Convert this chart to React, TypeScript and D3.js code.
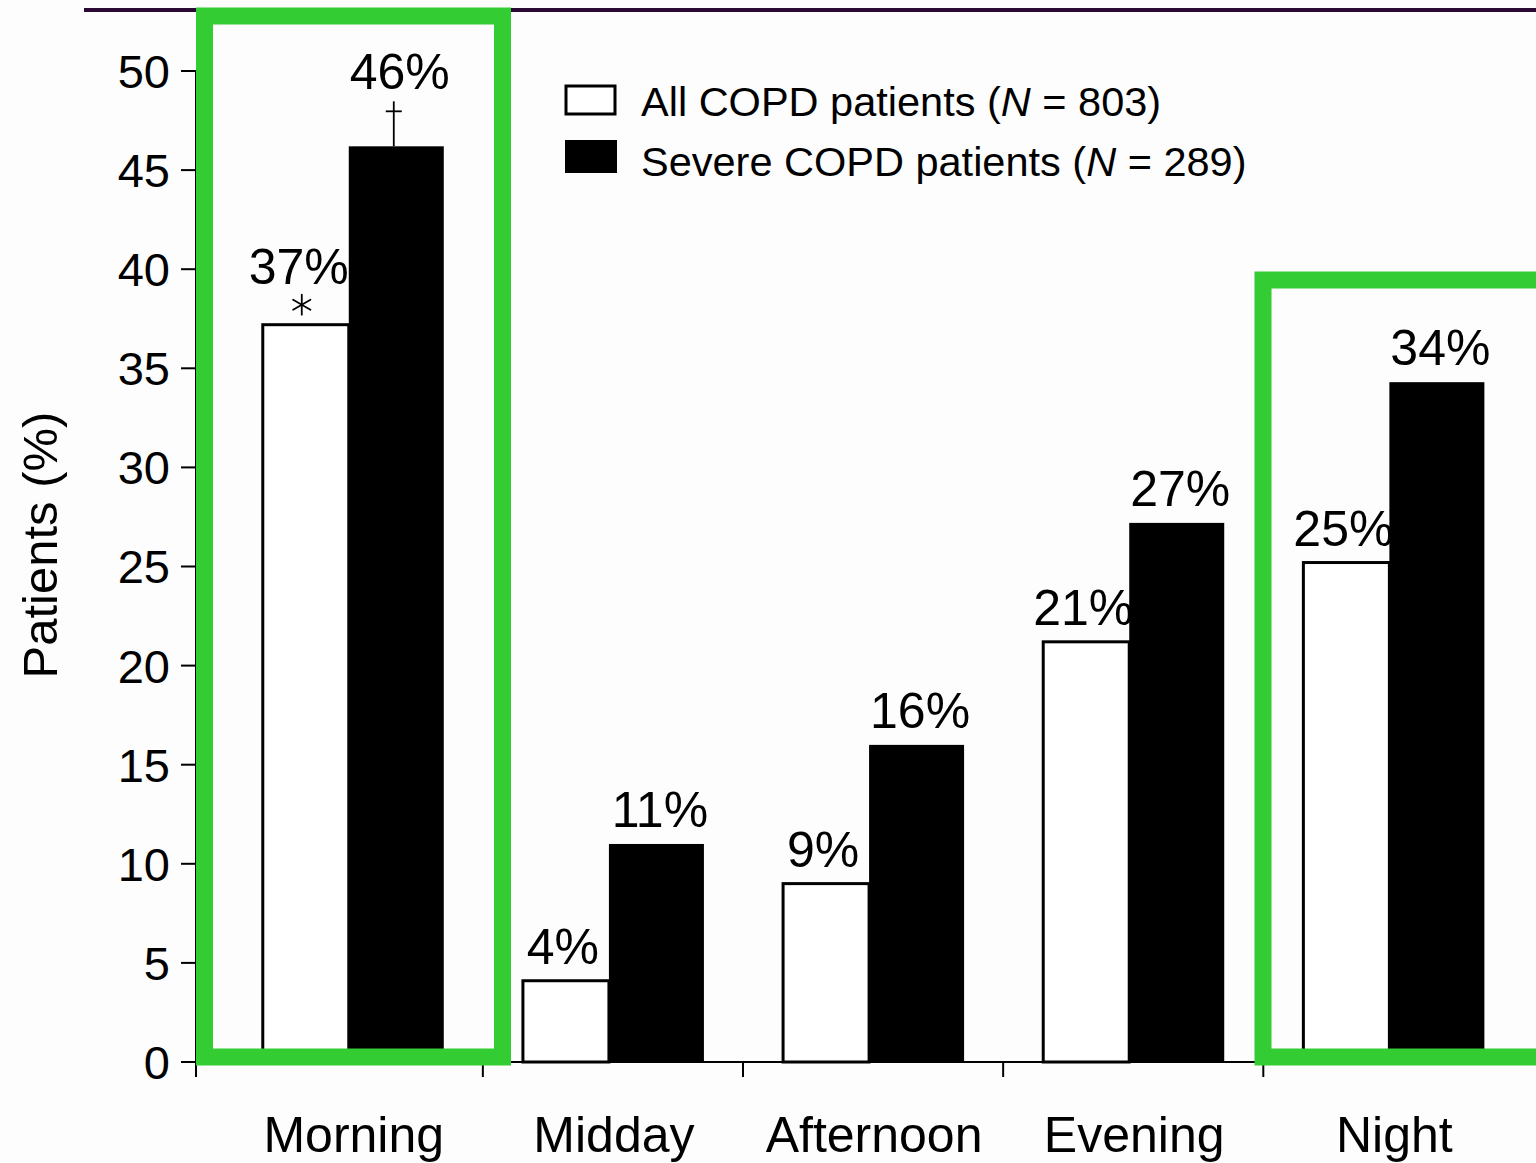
import React from "react";
import * as d3 from "d3";

const categories = ["Morning", "Midday", "Afternoon", "Evening", "Night"];
const allPatients = [37.2, 4.1, 9.0, 21.2, 25.2];
const severePatients = [46.2, 11.0, 16.0, 27.2, 34.3];
const yTicks = [0, 5, 10, 15, 20, 25, 30, 35, 40, 45, 50];
const seriesNames = ["All COPD patients", "Severe COPD patients"];
const seriesN = [803, 289];
const highlighted = ["Morning", "Night"];

const W = 1536;
const H = 1163;
const FONT = "'Liberation Sans', Arial, Helvetica, sans-serif";
const GREEN = "#33cc33";

export default function App() {
  const axisX = 196;
  const y = d3.scaleLinear().domain([0, 50]).range([1062, 71]);
  const step = 260.15;
  const x = d3.scaleBand<string>().domain(categories).range([222.7, 222.7 + 5 * step]).padding(0);
  const center = (c: string) => (x(c) as number) + x.bandwidth() / 2;
  const y0 = y(0);

  const boundaries = categories.slice(1).map((c) => x(c) as number);
  const m = center("Morning");
  const daggerTop = y(severePatients[0]);
  const astX = m - 51;
  const astY = y(allPatients[0]) - 20;
  const astR = 10;

  return (
    <svg
      width={W}
      height={H}
      style={{ position: "absolute", left: 0, top: 0, background: "#fdfdfd" }}
      fontFamily={FONT}
    >
      <rect x={0} y={0} width={W} height={H} fill="#fdfdfd" />
      {/* top rule */}
      <line x1={84} x2={W} y1={10} y2={10} stroke="#2a0a33" strokeWidth={4} />

      {/* y axis */}
      <line x1={axisX} x2={axisX} y1={y(50)} y2={1077} stroke="#000" strokeWidth={2} />
      {yTicks.map((t) => (
        <g key={t}>
          <line x1={181} x2={axisX} y1={y(t)} y2={y(t)} stroke="#000" strokeWidth={2} />
          <text x={170} y={y(t)} dy="0.36em" textAnchor="end" fontSize={47} fill="#000">
            {t}
          </text>
        </g>
      ))}
      <text
        transform={`translate(57, 545) rotate(-90)`}
        textAnchor="middle"
        fontSize={49}
        fill="#000"
      >
        Patients (%)
      </text>

      {/* x axis */}
      <line x1={axisX} x2={W} y1={y0} y2={y0} stroke="#000" strokeWidth={2} />
      {boundaries.map((b, i) => (
        <line key={i} x1={b} x2={b} y1={y0} y2={1077} stroke="#000" strokeWidth={2} />
      ))}
      {categories.map((c) => (
        <text key={c} x={center(c) + 1} y={1152} textAnchor="middle" fontSize={50} fill="#000">
          {c}
        </text>
      ))}

      {/* bars */}
      {categories.map((c, i) => {
        const cx = center(c);
        const a = allPatients[i];
        const s = severePatients[i];
        return (
          <g key={c}>
            <rect
              x={cx - 90}
              y={y(a)}
              width={86}
              height={y0 - y(a)}
              fill="#fff"
              stroke="#000"
              strokeWidth={3}
            />
            <rect x={cx - 4} y={y(s)} width={95} height={y0 - y(s)} fill="#000" />
            <text x={cx - (i === 0 ? 54 : 50)} y={y(a) - (i === 0 ? 41 : 17)} textAnchor="middle" fontSize={50} fill="#000">
              {Math.round(a)}%
            </text>
            <text x={cx + 47} y={y(s) - (i === 0 ? 57 : 17)} textAnchor="middle" fontSize={50} fill="#000">
              {Math.round(s)}%
            </text>
          </g>
        );
      })}

      {/* significance markers: asterisk and dagger */}
      <g stroke="#000" strokeWidth={1.8} strokeLinecap="round">
        {[90, 30, 150].map((deg) => {
          const r = (deg * Math.PI) / 180;
          return (
            <line
              key={deg}
              x1={astX - astR * Math.cos(r)}
              x2={astX + astR * Math.cos(r)}
              y1={astY - astR * Math.sin(r)}
              y2={astY + astR * Math.sin(r)}
            />
          );
        })}
      </g>
      <g>
        <line x1={m + 41} x2={m + 41} y1={daggerTop - 45} y2={daggerTop} stroke="#000" strokeWidth={1.8} />
        <line x1={m + 33} x2={m + 49} y1={daggerTop - 35} y2={daggerTop - 35} stroke="#000" strokeWidth={1.8} />
      </g>

      {/* legend */}
      <rect x={566} y={86} width={49} height={28} fill="#fff" stroke="#000" strokeWidth={3} />
      <rect x={565} y={140} width={52} height={33} fill="#000" />
      <text x={641} y={116} fontSize={41.5} fill="#000">
        {seriesNames[0]} (<tspan fontStyle="italic">N</tspan> = {seriesN[0]})
      </text>
      <text x={641} y={176} fontSize={41.5} fill="#000">
        {seriesNames[1]} (<tspan fontStyle="italic">N</tspan> = {seriesN[1]})
      </text>

      {/* highlight boxes */}
      {highlighted.map((c) => {
        const isFirst = c === categories[0];
        const left = isFirst ? 204.5 : 1263;
        const top = isFirst ? 16 : 280;
        const right = isFirst ? 502.5 : W + 20;
        return (
          <rect
            key={c}
            x={left}
            y={top}
            width={right - left}
            height={1057 - top}
            fill="none"
            stroke={GREEN}
            strokeWidth={17}
          />
        );
      })}
    </svg>
  );
}
